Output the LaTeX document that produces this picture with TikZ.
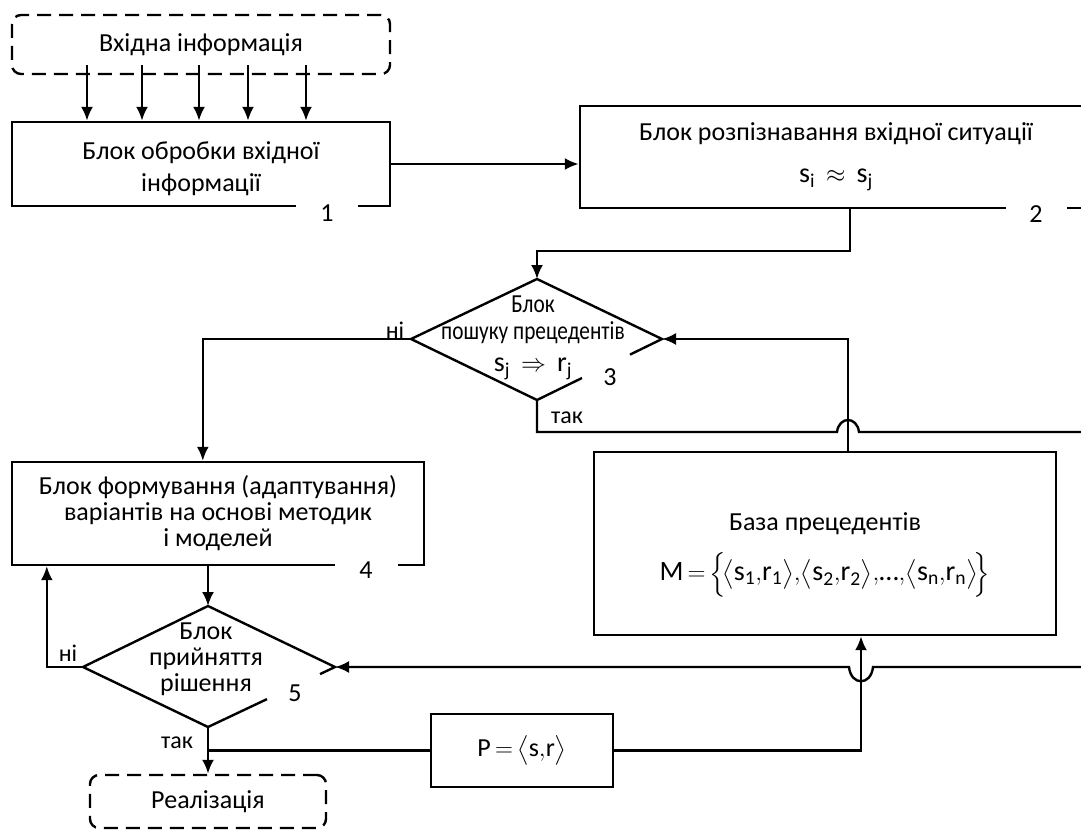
\documentclass[tikz,border=0pt]{standalone}
\usepackage{fontspec}
\setmainfont{Carlito}
\usepackage{amsmath}
\usepackage{graphicx}
\usetikzlibrary{arrows.meta}
\tikzset{
  txt/.style={font=\fontsize{26}{26}\selectfont, align=center, inner sep=0pt},
  lab/.style={font=\fontsize{24}{26}\selectfont, inner sep=0pt},
  solidbox/.style={draw, txt},
  dashbox/.style={draw, txt, dash pattern=on 14pt off 8pt, rounded corners=9pt},
  num/.style={txt, fill=white, minimum height=22pt},
  conn/.style={-{Latex[length=14pt,width=12pt]}},
}
\newcommand{\tv}[1]{\text{#1}}
\newcommand{\frmsize}{\fontsize{28}{28}\selectfont}
\begin{document}
\begin{tikzpicture}[x=1pt,y=-1pt,line width=2.4pt]
\useasboundingbox (0,0) rectangle (1081,830);

% nodes
\node[dashbox, minimum width=378pt, minimum height=59pt] (in) at (201,44.5) {\raisebox{-3pt}{Вхідна інформація}};
\node[solidbox, minimum width=378pt, minimum height=84pt] (b1) at (201,164) {\rule{0pt}{27pt}Блок обробки вхідної\\[6pt]інформації};
\node[num, minimum width=62pt] (n1) at (327,213) {1};

\node[solidbox, minimum width=512pt, minimum height=102pt] (b2) at (836,157) {Блок розпізнавання вхідної ситуації\\[16pt]{\frmsize $\tv{s}_{\tv{i}}\,\approx\,\tv{s}_{\tv{j}}$}};
\node[num, minimum width=61pt] (n2) at (1036,214) {2};

\coordinate (d3t) at (537,279);
\coordinate (d3l) at (411,339);
\coordinate (d3r) at (662,339);
\coordinate (d3b) at (537,400);
\draw (630,354.6) -- (d3r) -- (d3t) -- (d3l) -- (d3b) -- (582,378);
\node[txt] (d3) at (533,338) {\scalebox{0.82}[1]{Блок}\\[1pt]\scalebox{0.82}[1]{пошуку прецедентів}\\[6pt]{\frmsize $\tv{s}_{\tv{j}}\,\Rightarrow\,\tv{r}_{\tv{j}}$}};
\node[txt] (n3) at (610,377) {3};
\node[lab] (no3) at (395,330) {ні};
\node[lab] (yes3) at (567,418) {так};

\node[solidbox, minimum width=412pt, minimum height=103pt] (b4) at (218,513.5) {Блок формування (адаптування)\\варіантів на основі методик\\і моделей};
\node[num, minimum width=63pt] (n4) at (366,570) {4};

\node[solidbox, minimum width=462pt, minimum height=183pt] (base) at (825,543.5) {\rule{0pt}{41pt}База прецедентів\\[16pt]{\frmsize $\tv{M}\,{=}\,\Bigl\{\!\bigl\langle\tv{s}_{\tv{1}}{,}\tv{r}_{\tv{1}}\bigr\rangle{,}\bigl\langle\tv{s}_{\tv{2}}{,}\tv{r}_{\tv{2}}\bigr\rangle{,}\tv{…}{,}\bigl\langle\tv{s}_{\tv{n}}{,}\tv{r}_{\tv{n}}\bigr\rangle\!\Bigr\}$}};

\coordinate (d5t) at (208,606);
\coordinate (d5l) at (83,667);
\coordinate (d5r) at (335,667);
\coordinate (d5b) at (208,727);
\draw (320,674.1) -- (d5r) -- (d5t) -- (d5l) -- (d5b) -- (267,699.1);
\node[txt] (d5) at (206,659) {Блок\\прийняття\\рішення};
\node[txt] (n5) at (295,693) {5};
\node[lab] (no5) at (68,653) {ні};
\node[lab] (yes5) at (177,743) {так};

\node[solidbox, minimum width=182pt, minimum height=73pt] (P) at (522,750.5) {{\fontsize{26}{26}\selectfont $\tv{P}\,{=}\,\bigl\langle\tv{s}{,}\tv{r}\bigr\rangle$}};
\node[dashbox, minimum width=236pt, minimum height=53pt] (real) at (208,801.5) {\raisebox{-5pt}{Реалізація}};

% connectors
\foreach \x in {87,142,199,248,306} \draw[conn] (\x,65) -- (\x,0 |- b1.north);
\draw[conn] (b1.east) -- (b1.east -| b2.west);
\draw[conn] ([xshift=14pt]b2.south) |- (d3t |- 0,251) -- (d3t);
\draw[conn] (d3l) -| ([xshift=192pt]b4.north west);
\draw (d3b) -- (d3b |- 0,432) -- (837,432) .. controls (839,416) and (857,416) .. (859,432) -- (1090,432);
\draw[conn] ([xshift=23pt]base.north) |- (d3r);
\draw[conn] ([xshift=-10pt]b4.south) -- (d5t);
\draw[conn] (d5l) -| ([xshift=36pt]b4.south west);
\draw[conn] (d5b) -- (d5b |- real.north);
\draw (d5b |- P.west) -- (P.west);
\draw[conn] (P.east) -| ([xshift=36pt]base.south);
\draw[conn] (1090,667) -- (873,667) .. controls (871,686) and (851,686) .. (849,667) -- (d5r);
\end{tikzpicture}
\end{document}
